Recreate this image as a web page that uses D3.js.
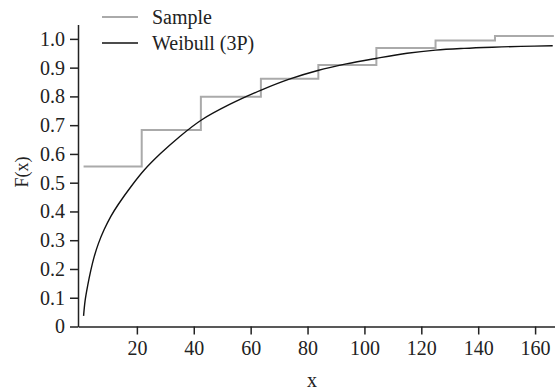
<!DOCTYPE html>
<html>
<head>
<meta charset="utf-8">
<script src="https://cdn.jsdelivr.net/npm/d3@7"></script>
<style>
  body { margin: 0; background: #fff; }
  text { font-family: "Liberation Serif", "Times New Roman", serif; fill: #222; }
</style>
</head>
<body>
<div id="chart"></div>
<script>
// empirical CDF steps (x where each step starts, level)
const stepX = [1.26, 21.7, 42.5, 63.6, 83.8, 104.2, 125, 145.9];
const stepF = [0.556, 0.683, 0.799, 0.861, 0.909, 0.968, 0.994, 1.010];
const stepEnd = 166.6;

// fitted Weibull (3P) curve
const fitX = [1.26, 1.8, 2.7, 3.8, 5.0, 6.5, 8.5, 10.9, 13.5, 17.9, 22.6, 28.4, 35, 42.7, 52.6, 63.7, 73.6, 83.6, 93.6, 104, 115, 125, 135, 145, 155, 166.2];
const fitF = [0.037, 0.09, 0.142, 0.195, 0.243, 0.289, 0.337, 0.384, 0.425, 0.486, 0.544, 0.602, 0.66, 0.718, 0.772, 0.822, 0.86, 0.89, 0.913, 0.932, 0.95, 0.961, 0.967, 0.971, 0.974, 0.976];

const xTicks = [20, 40, 60, 80, 100, 120, 140, 160];
const yTicks = [0, 0.1, 0.2, 0.3, 0.4, 0.5, 0.6, 0.7, 0.8, 0.9, 1.0];

const width = 555, height = 390;

const svg = d3.select("#chart")
    .append("svg")
    .attr("width", width)
    .attr("height", height);

const x = d3.scaleLinear().domain([-0.7, 167]).range([78, 555]);
const y = d3.scaleLinear().domain([0, 1.05]).range([326.5, 24.5]);

// axes
const xAxis = svg.append("g")
    .attr("transform", `translate(0,${y(0)})`)
    .call(d3.axisBottom(x).tickValues(xTicks).tickSize(8).tickPadding(6).tickSizeOuter(0));

const yAxis = svg.append("g")
    .attr("transform", `translate(${x(-0.7)},0)`)
    .call(d3.axisLeft(y).tickValues(yTicks).tickSize(8).tickPadding(5).tickSizeOuter(0)
        .tickFormat(d => d === 0 ? "0" : d3.format(".1f")(d)));

[xAxis, yAxis].forEach(g => {
    g.attr("font-family", null);
    g.selectAll("path, line").attr("stroke", "#222").attr("stroke-width", 1.5);
    g.selectAll("text")
        .style("font-family", "'Liberation Serif', serif")
        .style("font-size", "20px")
        .attr("fill", "#222");
});

// sample step line
const stepPts = stepX.map((v, i) => [v, stepF[i]]);
stepPts.push([stepEnd, stepF[stepF.length - 1]]);

svg.append("path")
    .datum(stepPts)
    .attr("fill", "none")
    .attr("stroke", "#aaa")
    .attr("stroke-width", 2)
    .attr("d", d3.line().x(d => x(d[0])).y(d => y(d[1])).curve(d3.curveStepAfter));

// weibull curve
svg.append("path")
    .datum(fitX.map((v, i) => [v, fitF[i]]))
    .attr("fill", "none")
    .attr("stroke", "#111")
    .attr("stroke-width", 1.4)
    .attr("d", d3.line().x(d => x(d[0])).y(d => y(d[1])).curve(d3.curveCatmullRom.alpha(0.5)));

// axis titles
svg.append("text")
    .attr("x", 312)
    .attr("y", 387)
    .attr("text-anchor", "middle")
    .style("font-size", "20px")
    .text("x");

svg.append("text")
    .attr("transform", "translate(28,172) rotate(-90)")
    .attr("text-anchor", "middle")
    .style("font-size", "18px")
    .text("F(x)");

// legend
const legend = [
    { name: "Sample", color: "#aaa", w: 2 },
    { name: "Weibull (3P)", color: "#111", w: 1.4 }
];
const lg = svg.append("g").selectAll("g")
    .data(legend)
    .enter().append("g")
    .attr("transform", (d, i) => `translate(0,${17 + i * 26})`);

lg.append("line")
    .attr("x1", 102).attr("x2", 138)
    .attr("stroke", d => d.color)
    .attr("stroke-width", d => d.w);

lg.append("text")
    .attr("x", 152)
    .attr("dy", "0.35em")
    .style("font-size", "20px")
    .text(d => d.name);
</script>
</body>
</html>
